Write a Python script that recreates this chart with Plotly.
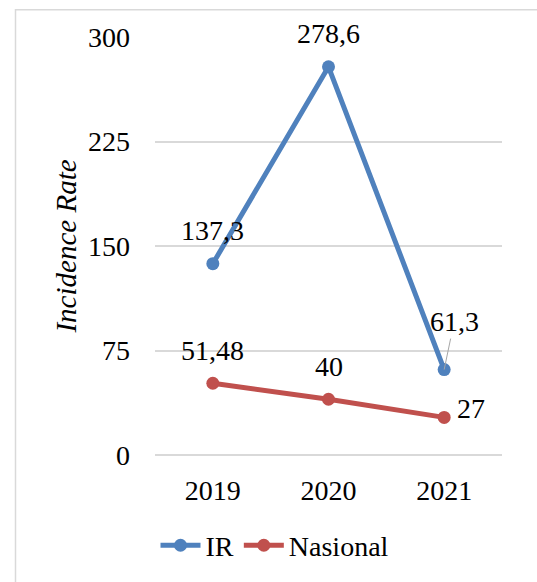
import plotly.graph_objects as go

years = ["2019", "2020", "2021"]
ir = [137.3, 278.6, 61.3]
nasional = [51.48, 40, 27]
ir_labels = ["137,3", "278,6", "61,3"]
nas_labels = ["51,48", "40", "27"]
y_ticks = [0, 75, 150, 225, 300]

BLUE = "#4F81BD"
RED = "#C0504D"
FONT = "Liberation Serif"
FS = 28

fig = go.Figure()
fig.add_trace(go.Scatter(x=years, y=ir, name="IR", mode="lines+markers",
                         line=dict(color=BLUE, width=5),
                         marker=dict(color=BLUE, size=13)))
fig.add_trace(go.Scatter(x=years, y=nasional, name="Nasional", mode="lines+markers",
                         line=dict(color=RED, width=5),
                         marker=dict(color=RED, size=13)))

lab_font = dict(family=FONT, size=FS, color="black")
ann = []
for i, (y, t) in enumerate(zip(ir, ir_labels)):
    if i == 2:
        ann.append(dict(x=i, y=y, text=t, showarrow=True, arrowhead=0, arrowwidth=1,
                        arrowcolor="#A6A6A6", ax=10, ay=-48, standoff=0,
                        font=lab_font))
    else:
        ann.append(dict(x=i, y=y, text=t, showarrow=False, yshift=33, font=lab_font))
for i, (y, t) in enumerate(zip(nasional, nas_labels)):
    if i == 2:
        ann.append(dict(x=i, y=y, text=t, showarrow=False, xshift=27, yshift=9,
                        font=lab_font))
    else:
        ann.append(dict(x=i, y=y, text=t, showarrow=False, yshift=33, font=lab_font))

W, H = 537, 582
L, R, T, B = 155, 35, 37, 125
pw, ph = W - L - R, H - T - B

def px(xp):
    return (xp - L) / pw

def py(yp):
    return 1 - (yp - T) / ph

fig.update_layout(
    width=W, height=H,
    margin=dict(l=L, r=R, t=T, b=B),
    paper_bgcolor="white", plot_bgcolor="white",
    font=dict(family=FONT, size=FS, color="black"),
    showlegend=True,
    legend=dict(orientation="h", x=px(275), xanchor="center", y=py(548), yanchor="middle",
                font=dict(family=FONT, size=FS, color="black"), itemwidth=40,
                tracegroupgap=0),
    annotations=ann,
    shapes=[dict(type="rect", xref="paper", yref="paper",
                 x0=px(15.5), x1=px(560), y0=py(600), y1=py(9.5),
                 line=dict(color="#D9D9D9", width=1.5), layer="below")],
    xaxis=dict(type="category", range=[-0.5, 2.5], showgrid=False, showline=False,
               zeroline=False, ticks="", ticklabelstandoff=16,
               tickfont=dict(family=FONT, size=FS, color="black")),
    yaxis=dict(range=[0, 300], tickvals=y_ticks, showgrid=True, gridcolor="#D9D9D9",
               gridwidth=1.5, zeroline=True, zerolinecolor="#D9D9D9", zerolinewidth=1.5,
               showline=False, ticks="",
               ticklabelstandoff=24,
               tickfont=dict(family=FONT, size=FS, color="black"),
               title=dict(text="<i>Incidence Rate</i>", standoff=2,
                          font=dict(family=FONT, size=29, color="black"))),
)

fig.write_html("out.html")
